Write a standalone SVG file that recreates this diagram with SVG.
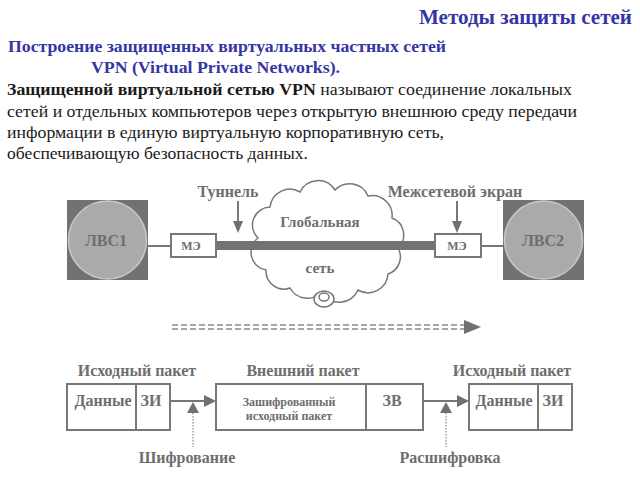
<svg xmlns="http://www.w3.org/2000/svg" width="640" height="480" viewBox="0 0 640 480">
<style>
.title{font-weight:bold;fill:#3535a5}
.txt{font-size:17px;fill:#1a1a1a}
.lbl{font-weight:bold;fill:#6e6e6e}
.box{fill:#fff;stroke:#777;stroke-width:2}
.thin{stroke:#777;stroke-width:2;fill:none}
.head{fill:#707070}
</style>
<rect width="640" height="480" fill="#fff"/>
<text class="title" font-family="Liberation Serif" x="419" y="24" font-size="20" textLength="213" lengthAdjust="spacingAndGlyphs">Методы защиты сетей</text>
<text class="title" font-family="Liberation Serif" x="8" y="52" font-size="16" textLength="438" lengthAdjust="spacingAndGlyphs">Построение защищенных виртуальных частных сетей</text>
<text class="title" font-family="Liberation Serif" x="91" y="73" font-size="16" textLength="249" lengthAdjust="spacingAndGlyphs">VPN (Virtual Private Networks).</text>
<text class="txt" font-family="Liberation Serif" x="7" y="95" textLength="565" lengthAdjust="spacingAndGlyphs"><tspan font-weight="bold">Защищенной виртуальной сетью VPN</tspan> называют соединение локальных</text>
<text class="txt" font-family="Liberation Serif" x="7" y="117" textLength="570" lengthAdjust="spacingAndGlyphs">сетей и отдельных компьютеров через открытую внешнюю среду передачи</text>
<text class="txt" font-family="Liberation Serif" x="7" y="138" textLength="437" lengthAdjust="spacingAndGlyphs">информации в единую виртуальную корпоративную сеть,</text>
<text class="txt" font-family="Liberation Serif" x="7" y="159" textLength="301" lengthAdjust="spacingAndGlyphs">обеспечивающую безопасность данных.</text>

<g id="connectors">
<line class="thin" x1="147" y1="246" x2="171" y2="246"/>
<line class="thin" x1="481" y1="246" x2="504" y2="246"/>
<line class="thin" x1="238" y1="201" x2="238" y2="222"/>
<polygon class="head" points="233,221 243,221 238,233"/>
<line class="thin" x1="457" y1="201" x2="457" y2="222"/>
<polygon class="head" points="452,221 462,221 457,233"/>
<line x1="172" y1="325" x2="466" y2="325" stroke="#8a8a8a" stroke-width="1.3" stroke-dasharray="6,3"/>
<line x1="172" y1="329" x2="466" y2="329" stroke="#8a8a8a" stroke-width="1.3" stroke-dasharray="6,3"/>
<polygon class="head" points="464,320 481,327 464,334"/>
<line class="thin" x1="170" y1="401" x2="206" y2="401"/>
<polygon class="head" points="204,395 216,401 204,407"/>
<polygon class="head" points="193,402 187,413 199,413"/>
<line x1="193" y1="413" x2="193" y2="447" stroke="#888" stroke-width="1.2" stroke-dasharray="1.5,1.5"/>
<line class="thin" x1="423" y1="401" x2="459" y2="401"/>
<polygon class="head" points="457,395 469,401 457,407"/>
<polygon class="head" points="446,402 440,413 452,413"/>
<line x1="446" y1="413" x2="446" y2="447" stroke="#888" stroke-width="1.2" stroke-dasharray="1.5,1.5"/>
</g>

<g id="lan1">
<rect x="67" y="200" width="81" height="80" fill="#727272"/>
<circle cx="107.5" cy="240" r="39" fill="#aaa" stroke="#c8c8c8" stroke-width="1.5"/>
<text class="lbl" font-family="Liberation Serif" x="106" y="246" font-size="16" text-anchor="middle" fill="#7a7a7a">ЛВС1</text>
</g>
<g id="lan2">
<rect x="503" y="200" width="81" height="80" fill="#727272"/>
<circle cx="543.5" cy="240" r="39" fill="#aaa" stroke="#c8c8c8" stroke-width="1.5"/>
<text class="lbl" font-family="Liberation Serif" x="543" y="246" font-size="16" text-anchor="middle" fill="#7a7a7a">ЛВС2</text>
</g>

<g id="cloud">
<path d="M258,238 A18,18 0 0 1 270,207 A20,20 0 0 1 300,192 A20,20 0 0 1 335,190 A20,20 0 0 1 368,196 A20,20 0 0 1 392,218 A18,18 0 0 1 398,248 A18,18 0 0 1 388,274 A20,20 0 0 1 358,290 A20,20 0 0 1 322,292 A20,20 0 0 1 290,288 A18,18 0 0 1 266,270 A18,18 0 0 1 258,238 Z" fill="#fff" stroke="#777" stroke-width="1.5"/>
<ellipse cx="324" cy="299" rx="10" ry="8" fill="#fff" stroke="#777" stroke-width="1.5"/>
<ellipse cx="324" cy="297" rx="5" ry="4" fill="#fff" stroke="#777" stroke-width="1.5"/>
<text class="lbl" font-family="Liberation Serif" x="320" y="227" font-size="15" text-anchor="middle">Глобальная</text>
<text class="lbl" font-family="Liberation Serif" x="320" y="273" font-size="15" text-anchor="middle">сеть</text>
</g>

<g id="tunnel">
<rect x="215" y="241" width="220" height="9" fill="#727272"/>
<text class="lbl" font-family="Liberation Serif" x="228" y="197" font-size="16" text-anchor="middle">Туннель</text>
</g>

<g id="fw1">
<rect class="box" x="171" y="234" width="45" height="23"/>
<text class="lbl" font-family="Liberation Serif" x="191" y="250" font-size="12" text-anchor="middle">МЭ</text>
</g>
<g id="fw2">
<rect class="box" x="435" y="234" width="46" height="23"/>
<text class="lbl" font-family="Liberation Serif" x="457" y="250" font-size="12" text-anchor="middle">МЭ</text>
</g>
<text class="lbl" font-family="Liberation Serif" x="455" y="197" font-size="16" text-anchor="middle">Межсетевой экран</text>

<g id="src-packet">
<text class="lbl" font-family="Liberation Serif" x="137" y="376" font-size="16" text-anchor="middle">Исходный пакет</text>
<rect class="box" x="67" y="384" width="103" height="46"/>
<line class="thin" x1="136" y1="384" x2="136" y2="430"/>
<text class="lbl" font-family="Liberation Serif" x="103" y="406" font-size="16" text-anchor="middle">Данные</text>
<text class="lbl" font-family="Liberation Serif" x="151" y="406" font-size="16" text-anchor="middle">ЗИ</text>
</g>

<g id="outer-packet">
<text class="lbl" font-family="Liberation Serif" x="303" y="376" font-size="16" text-anchor="middle">Внешний пакет</text>
<rect class="box" x="216" y="384" width="207" height="46"/>
<line class="thin" x1="366" y1="384" x2="366" y2="430"/>
<text class="lbl" font-family="Liberation Serif" x="289" y="406" font-size="12" text-anchor="middle">Зашифрованный</text>
<text class="lbl" font-family="Liberation Serif" x="289" y="420" font-size="12" text-anchor="middle">исходный пакет</text>
<text class="lbl" font-family="Liberation Serif" x="392" y="406" font-size="16" text-anchor="middle">ЗВ</text>
</g>

<g id="dst-packet">
<text class="lbl" font-family="Liberation Serif" x="512" y="376" font-size="16" text-anchor="middle">Исходный пакет</text>
<rect class="box" x="469" y="384" width="103" height="46"/>
<line class="thin" x1="538" y1="384" x2="538" y2="430"/>
<text class="lbl" font-family="Liberation Serif" x="504" y="406" font-size="16" text-anchor="middle">Данные</text>
<text class="lbl" font-family="Liberation Serif" x="553" y="406" font-size="16" text-anchor="middle">ЗИ</text>
</g>

<g id="enc">
<text class="lbl" font-family="Liberation Serif" x="187" y="463" font-size="16" text-anchor="middle">Шифрование</text>
</g>
<g id="dec">
<text class="lbl" font-family="Liberation Serif" x="450" y="463" font-size="16" text-anchor="middle">Расшифровка</text>
</g>
</svg>
